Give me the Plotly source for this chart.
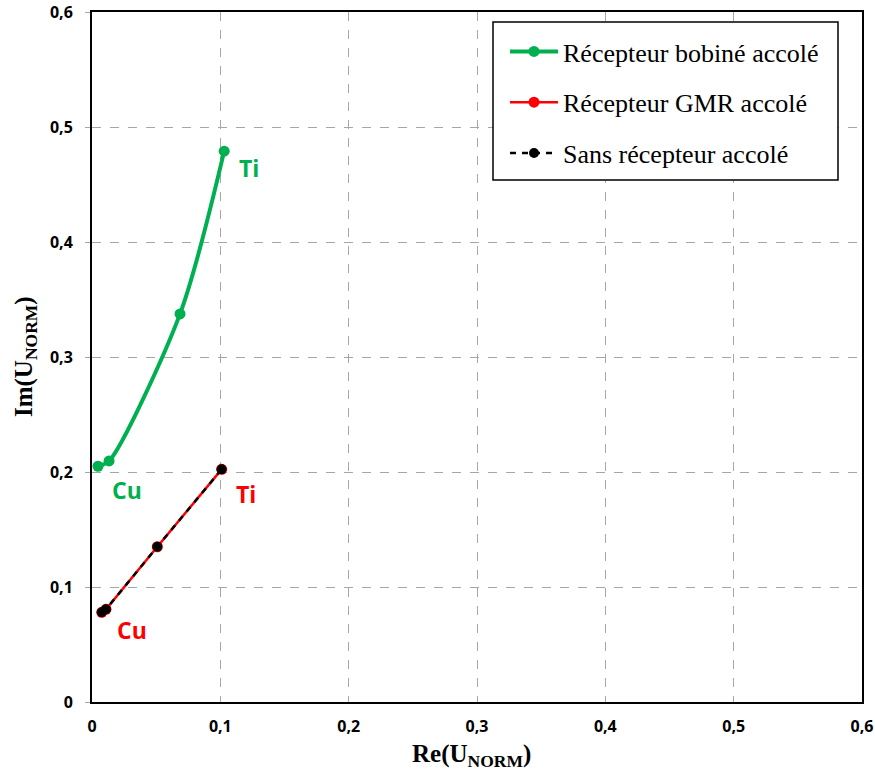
import plotly.graph_objects as go

# Data
bob_re = [0.0047, 0.0133, 0.0686, 0.1030]
bob_im = [0.2050, 0.2096, 0.3375, 0.4790]

gmr_re = [0.0076, 0.0109, 0.0509, 0.1010]
gmr_im = [0.0780, 0.0806, 0.1350, 0.2023]

sans_re = [0.0076, 0.0109, 0.0509, 0.1010]
sans_im = [0.0780, 0.0806, 0.1350, 0.2023]

tick_vals = [0, 0.1, 0.2, 0.3, 0.4, 0.5, 0.6]
tick_text = ["0", "0,1", "0,2", "0,3", "0,4", "0,5", "0,6"]

names = ["Récepteur bobiné accolé", "Récepteur GMR accolé", "Sans récepteur accolé"]

GREEN = "#00B050"
RED = "#FF0000"

W, H = 875, 773
ML, MR, MT, MB = 92, 13, 12, 71
PW, PH = W - ML - MR, H - MT - MB


def px2paper(x, y):
    return (x - ML) / PW, (H - MB - y) / PH


fig = go.Figure()
fig.add_trace(go.Scatter(x=bob_re, y=bob_im, mode="lines+markers", name=names[0],
                         line=dict(color=GREEN, width=4, shape="spline", smoothing=0.8),
                         marker=dict(size=11, color=GREEN), legendgroup="a"))
fig.add_trace(go.Scatter(x=gmr_re, y=gmr_im, mode="lines+markers", name=names[1],
                         line=dict(color=RED, width=2.5),
                         marker=dict(size=11, color=RED), legendgroup="b"))
fig.add_trace(go.Scatter(x=sans_re, y=sans_im, mode="lines+markers", name=names[2],
                         line=dict(color="black", width=2.5, dash="6px,6px"),
                         marker=dict(size=10, color="black"), legendgroup="c"))

labels = [
    (0.103, 0.479, "Ti", GREEN, 13, -17),
    (0.0047, 0.205, "Cu", GREEN, 12, -24),
    (0.101, 0.2023, "Ti", RED, 12, -25),
    (0.0076, 0.078, "Cu", RED, 13, -18),
]
for x, y, t, c, xs, ys in labels:
    fig.add_annotation(x=x, y=y, text="<b>%s</b>" % t, showarrow=False,
                       xanchor="left", yanchor="middle", xshift=xs, yshift=ys,
                       font=dict(family="Open Sans", size=23, color=c))

# axis titles
fig.add_annotation(x=(471 - ML) / PW, y=-0.077, xref="paper", yref="paper", showarrow=False,
                   xanchor="center", yanchor="middle",
                   text="<b>Re(U<sub>NORM</sub>)</b>",
                   font=dict(family="Liberation Serif", size=25, color="black"))
fig.add_annotation(x=-0.087, y=0.5, xref="paper", yref="paper", showarrow=False,
                   xanchor="center", yanchor="middle", textangle=-90,
                   text="<b>Im(U<sub>NORM</sub>)</b>",
                   font=dict(family="Liberation Serif", size=25, color="black"))

# legend frame
x0, y0 = px2paper(493, 180)
x1, y1 = px2paper(838, 22)
fig.add_shape(type="rect", xref="paper", yref="paper", x0=x0, y0=y0, x1=x1, y1=y1,
              line=dict(color="black", width=1.5), fillcolor="white", layer="above")

axis_common = dict(range=[0, 0.6], tickvals=tick_vals, ticktext=tick_text,
                   showline=True, linecolor="black", linewidth=2, mirror=True,
                   showgrid=True, gridcolor="#a6a6a6", griddash="dash", gridwidth=1,
                   zeroline=False, automargin=False)

lx, ly = px2paper(505, 28)
fig.update_layout(
    width=W, height=H,
    margin=dict(l=ML, r=MR, t=MT, b=MB),
    paper_bgcolor="white", plot_bgcolor="white",
    showlegend=True,
    legend=dict(x=lx, y=ly, xanchor="left", yanchor="top",
                borderwidth=0, bgcolor="rgba(0,0,0,0)",
                font=dict(family="Liberation Serif", size=26, color="black"),
                tracegroupgap=14, traceorder="grouped", itemwidth=48),
    xaxis=dict(**axis_common, ticks="outside", ticklen=9, tickcolor="rgba(0,0,0,0)",
               tickfont=dict(family="Open Sans", size=16, color="black", weight="bold")),
    yaxis=dict(**axis_common, ticks="outside", ticklen=5, tickcolor="#a6a6a6",
               ticklabelstandoff=9,
               tickfont=dict(family="Open Sans", size=16, color="black", weight="bold")),
)

fig.write_html("out.html", config={"displayModeBar": False},
               post_script="document.body.style.margin='0';document.body.style.overflow='hidden';")
